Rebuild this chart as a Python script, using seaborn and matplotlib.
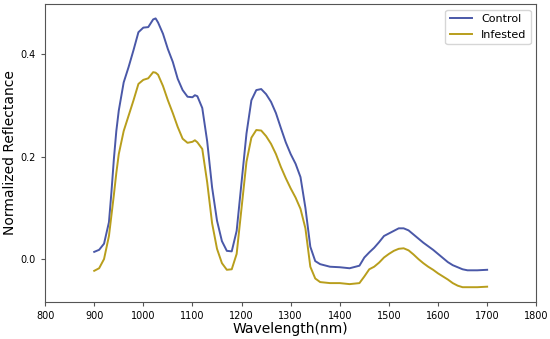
import numpy as np
import pandas as pd
import seaborn as sns
import matplotlib.pyplot as plt

wavelength = [900, 910, 920, 930, 935, 940, 945, 950, 960, 970, 980, 990, 1000, 1010, 1020,
              1025, 1030, 1040, 1050, 1060, 1070, 1080, 1090, 1100, 1105, 1110, 1120, 1130,
              1140, 1150, 1160, 1170, 1180, 1190, 1200, 1210, 1220, 1230, 1240, 1250, 1260,
              1270, 1280, 1290, 1300, 1310, 1320, 1330, 1340, 1350, 1360, 1380, 1400, 1420,
              1440, 1450, 1460, 1470, 1480, 1490, 1500, 1510, 1520, 1530, 1540, 1550, 1560,
              1570, 1580, 1590, 1600, 1610, 1620, 1630, 1640, 1650, 1660, 1680, 1700]

control = [0.014, 0.018, 0.030, 0.072, 0.130, 0.195, 0.250, 0.290, 0.345, 0.375, 0.408,
           0.443, 0.452, 0.453, 0.468, 0.470, 0.462, 0.440, 0.410, 0.385, 0.352, 0.330,
           0.317, 0.316, 0.320, 0.318, 0.295, 0.230, 0.140, 0.075, 0.035, 0.016, 0.015,
           0.055, 0.150, 0.245, 0.310, 0.330, 0.332, 0.322, 0.307, 0.285, 0.256, 0.228,
           0.205, 0.186, 0.160, 0.100, 0.024, -0.004, -0.010, -0.015, -0.016, -0.018,
           -0.013, 0.003, 0.013, 0.022, 0.033, 0.045, 0.050, 0.055, 0.060, 0.060, 0.056,
           0.048, 0.040, 0.032, 0.025, 0.018, 0.010, 0.002, -0.006, -0.012, -0.016,
           -0.020, -0.022, -0.022, -0.021]

infested = [-0.023, -0.018, 0.000, 0.045, 0.085, 0.125, 0.168, 0.205, 0.250, 0.280, 0.310,
            0.342, 0.350, 0.353, 0.365, 0.364, 0.360, 0.338, 0.310, 0.285, 0.258, 0.235,
            0.227, 0.229, 0.232, 0.228, 0.215, 0.150, 0.070, 0.020, -0.008, -0.021, -0.020,
            0.010, 0.100, 0.190, 0.237, 0.252, 0.251, 0.240, 0.225, 0.205, 0.180, 0.158,
            0.138, 0.120, 0.098, 0.060, -0.015, -0.038, -0.045, -0.047, -0.047, -0.049,
            -0.047, -0.034, -0.020, -0.015, -0.007, 0.003, 0.010, 0.016, 0.020, 0.021,
            0.017, 0.009, 0.000, -0.008, -0.015, -0.021, -0.028, -0.034, -0.040, -0.047,
            -0.052, -0.055, -0.055, -0.055, -0.054]

x_ticks = [800, 900, 1000, 1100, 1200, 1300, 1400, 1500, 1600, 1700, 1800]
y_ticks = [0.0, 0.2, 0.4]

df = pd.DataFrame({
    "Wavelength": wavelength * 2,
    "Reflectance": control + infested,
    "Group": ["Control"] * len(control) + ["Infested"] * len(infested),
})

fig = plt.figure(figsize=(5.5, 3.39), dpi=100)
ax = fig.add_axes([0.082, 0.109, 0.893, 0.879])
sns.lineplot(data=df, x="Wavelength", y="Reflectance", hue="Group",
             palette={"Control": "#4a58a8", "Infested": "#b89e1c"},
             linewidth=1.4, ax=ax)

ax.set_xlim(800, 1800)
ax.set_ylim(-0.084, 0.498)
ax.set_xticks(x_ticks)
ax.set_yticks(y_ticks)
ax.tick_params(labelsize=7, length=3, color="#555555")
ax.set_xlabel("Wavelength(nm)", fontsize=10, labelpad=1)
ax.set_ylabel("Normalized Reflectance", fontsize=10, labelpad=3)
for s in ax.spines.values():
    s.set_color("#555555")
ax.legend(title=None, loc="upper right", fontsize=8)
fig.savefig("out.png", dpi=100, facecolor="white")
